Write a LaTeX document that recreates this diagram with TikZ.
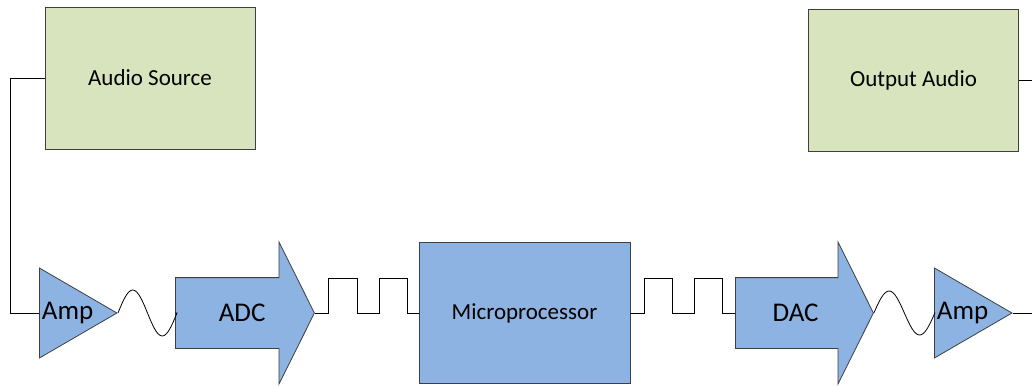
\documentclass[tikz,border=0pt]{standalone}
\usepackage{fontspec}
\setmainfont{Carlito}
\usetikzlibrary{shapes.geometric,shapes.arrows}
\definecolor{srcgreen}{HTML}{D7E4BD}
\definecolor{blockblue}{HTML}{8DB3E2}
\definecolor{edgegray}{HTML}{3F3F3F}

\begin{document}
\begin{tikzpicture}[x=1pt, y=1pt,
    audiobox/.style={draw=edgegray, fill=srcgreen, line width=0.8pt, minimum width=210pt, minimum height=142pt, font=\fontsize{23}{27}\selectfont},
    procbox/.style={draw=edgegray, fill=blockblue, line width=0.8pt, minimum width=211pt, minimum height=141pt, font=\fontsize{23}{27}\selectfont},
    ampbox/.style={isosceles triangle, isosceles triangle stretches, draw=edgegray, fill=blockblue, line width=0.8pt, minimum height=77pt, minimum width=90pt, inner sep=0pt, anchor=lower side, font=\fontsize{27}{31}\selectfont},
    convbox/.style={single arrow, single arrow head extend=35.5pt, single arrow tip angle=127, draw=edgegray, fill=blockblue, line width=0.8pt, minimum width=141pt, minimum height=139pt, inner sep=0pt, text height=43.7pt, text depth=26.3pt, anchor=tail, font=\fontsize{27}{31}\selectfont},
    wire/.style={line width=0.8pt, black}]
    \useasboundingbox (0,0) rectangle (1032,386);

    \node[audiobox] (src) at (150,308) {Audio Source};
    \node[audiobox] (out) at (913.5,306) {Output Audio};

    \node[ampbox] (amp1) at (39,73) {Amp};
    \node[convbox] (adc) at (175,73) {\hspace*{12pt}ADC};
    \node[procbox] (mp) at (524.5,73) {Microprocessor};
    \node[convbox, minimum height=138pt] (dac) at (735,73) {DAC};
    \node[ampbox] (amp2) at (934,73) {Amp};

    \coordinate (outend) at (1032,73);
    \coordinate (outtop) at (1032,306);

    % input side
    \draw[wire] (src.west) -- ++(-34,0) |- (amp1.lower side);
    \draw[wire] (amp1.apex) sin ++(14.75,23) cos ++(14.75,-23) sin ++(14.75,-23) cos ++(14.75,23) -- (adc.tail);
    \draw[wire] (adc.tip) -- ++(14,0) -- ++(0,35) -- ++(29,0) -- ++(0,-35) -- ++(22,0) -- ++(0,35) -- ++(28,0) -- ++(0,-35) -- (mp.west);

    % output side
    \draw[wire] (mp.east) -- ++(14,0) -- ++(0,35) -- ++(28,0) -- ++(0,-35) -- ++(22,0) -- ++(0,35) -- ++(28,0) -- ++(0,-35) -- (dac.tail);
    \draw[wire] (dac.tip) sin ++(15.25,22) cos ++(15.25,-22) sin ++(15.25,-22) cos ++(15.25,22) -- (amp2.lower side);
    \draw[wire] (amp2.apex) -- (outend);
    \draw[wire] (out.east) -- (outtop);
\end{tikzpicture}
\end{document}
